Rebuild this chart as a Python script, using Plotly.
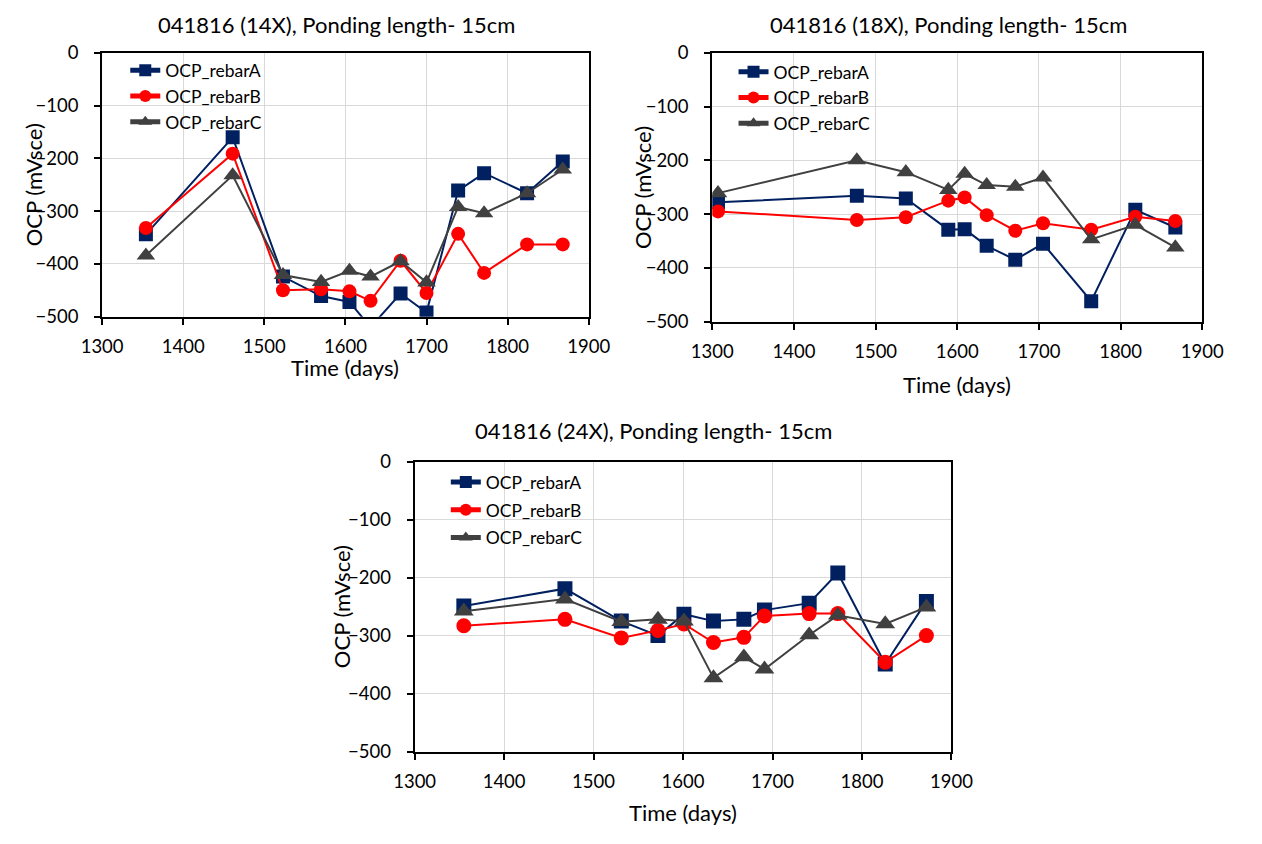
import plotly.graph_objects as go

FONT = "Lato"
# the html body keeps its default 8px margin, so the figure is sized to fit inside it
PAGE_PAD = 8
W, H = 1262 - 2 * PAGE_PAD, 844 - 2 * PAGE_PAD

series_names = ["OCP_rebarA", "OCP_rebarB", "OCP_rebarC"]
series_colors = ["#002060", "#FF0000", "#404040"]
series_symbols = ["square", "circle", "triangle-up"]
symbol_scale = [1.0, 1.0, 1.15]

# Specimen 041816 (14X)
days_14x = [1354, 1461, 1523, 1570, 1605, 1631, 1668, 1700, 1739, 1771, 1824, 1868]
ocp_14x_a = [-344, -160, -424, -461, -472, -520, -456, -492, -261, -228, -266, -206]
ocp_14x_b = [-332, -191, -450, -448, -452, -470, -394, -455, -343, -417, -363, -363]
ocp_14x_c = [-384, -232, -421, -434, -413, -424, -395, -435, -292, -304, -266, -221]

# Specimen 041816 (18X)
days_18x = [1307, 1477, 1537, 1589, 1609, 1636, 1671, 1705, 1764, 1818, 1867]
ocp_18x_a = [-278, -266, -271, -329, -328, -359, -385, -355, -462, -292, -325]
ocp_18x_b = [-295, -311, -306, -275, -269, -302, -331, -317, -329, -305, -313]
ocp_18x_c = [-261, -200, -222, -255, -225, -246, -249, -232, -347, -320, -362]

# Specimen 041816 (24X)
days_24x = [1355, 1468, 1531, 1572, 1601, 1634, 1668, 1691, 1741, 1773, 1826, 1872]
ocp_24x_a = [-249, -219, -275, -300, -263, -275, -272, -256, -244, -192, -349, -241]
ocp_24x_b = [-283, -272, -304, -291, -280, -312, -303, -266, -262, -262, -346, -300]
ocp_24x_c = [-258, -237, -276, -272, -275, -373, -337, -358, -299, -265, -280, -251]

x_ticks = [1300, 1400, 1500, 1600, 1700, 1800, 1900]
y_ticks = [0, -100, -200, -300, -400, -500]

titles = [
    "041816 (14X), Ponding length- 15cm",
    "041816 (18X), Ponding length- 15cm",
    "041816 (24X), Ponding length- 15cm",
]


def px_x(p):
    """page pixel column -> paper fraction"""
    return (p - PAGE_PAD) / W


def px_y(p):
    """page pixel row -> paper fraction"""
    return 1 - (p - PAGE_PAD) / H


# panel boxes in page pixels: left, right, top, bottom
panels = [
    dict(box=(92, 596, 50, 321), days=days_14x, vals=[ocp_14x_a, ocp_14x_b, ocp_14x_c],
         msize=14, legend=(116, 49.5), gap=0, title=(335, 20.5), xtitle_y=373),
    dict(box=(724, 1231.5, 50, 326), days=days_18x, vals=[ocp_18x_a, ocp_18x_b, ocp_18x_c],
         msize=14, legend=(746, 51), gap=0, title=(969, 20.5), xtitle_y=391),
    dict(box=(415.7, 971.7, 470, 767.7), days=days_24x, vals=[ocp_24x_a, ocp_24x_b, ocp_24x_c],
         msize=15, legend=(448, 472.5), gap=2, title=(663, 438), xtitle_y=830),
]
ytitle_x = [21, 651, 340]

fig = go.Figure()
layout = dict(
    width=W, height=H, autosize=False,
    margin=dict(l=0, r=0, t=0, b=0),
    paper_bgcolor="white", plot_bgcolor="white",
    font=dict(family=FONT, color="#000000", size=17),
    annotations=[],
)

for i, p in enumerate(panels):
    n = "" if i == 0 else str(i + 1)
    leg = "legend" + n
    left, right, top, bottom = p["box"]
    for k in range(3):
        fig.add_trace(go.Scatter(
            x=p["days"], y=p["vals"][k], name=series_names[k],
            mode="lines+markers",
            line=dict(color=series_colors[k], width=2),
            marker=dict(symbol=series_symbols[k], size=p["msize"] * symbol_scale[k],
                        color=series_colors[k], line=dict(width=0)),
            xaxis="x" + n, yaxis="y" + n, legend=leg, legendgroup=leg + str(k),
        ))
    axis_common = dict(
        showline=True, linecolor="#000000", linewidth=2, mirror=True,
        showgrid=True, gridcolor="#D9D9D9", gridwidth=1,
        ticks="outside", ticklen=6, tickwidth=2, tickcolor="#000000",
        zeroline=False, tickfont=dict(family=FONT, size=18.5, color="#000000"),
    )
    layout["xaxis" + n] = dict(
        axis_common, domain=[px_x(left), px_x(right)], anchor="y" + n,
        range=[1300, 1900], tickvals=x_ticks, ticklabelstandoff=6,
    )
    layout["yaxis" + n] = dict(
        axis_common, domain=[px_y(bottom), px_y(top)], anchor="x" + n,
        range=[-500, 0], tickvals=y_ticks, ticklabelstandoff=12,
    )
    lx, ly = p["legend"]
    layout[leg] = dict(
        x=px_x(lx), y=px_y(ly), xanchor="left", yanchor="top",
        bgcolor="rgba(0,0,0,0)", borderwidth=0,
        font=dict(family=FONT, size=17.5, color="#000000"),
        tracegroupgap=p["gap"], itemsizing="constant",
    )
    tx, ty = p["title"]
    layout["annotations"].append(dict(
        text=titles[i], x=px_x(tx), y=px_y(ty), xref="paper", yref="paper",
        xanchor="center", yanchor="middle", showarrow=False,
        font=dict(family=FONT, size=22, color="#000000"),
    ))
    layout["annotations"].append(dict(
        text="OCP (mVsce)", x=px_x(ytitle_x[i]), y=px_y((top + bottom) / 2),
        xref="paper", yref="paper",
        xanchor="center", yanchor="middle", showarrow=False, textangle=-90,
        font=dict(family=FONT, size=22, color="#000000"),
    ))
    layout["annotations"].append(dict(
        text="Time (days)", x=px_x((left + right) / 2), y=px_y(p["xtitle_y"]),
        xref="paper", yref="paper",
        xanchor="center", yanchor="middle", showarrow=False,
        font=dict(family=FONT, size=22, color="#000000"),
    ))

fig.update_layout(**layout)
fig.write_html("out.html")
